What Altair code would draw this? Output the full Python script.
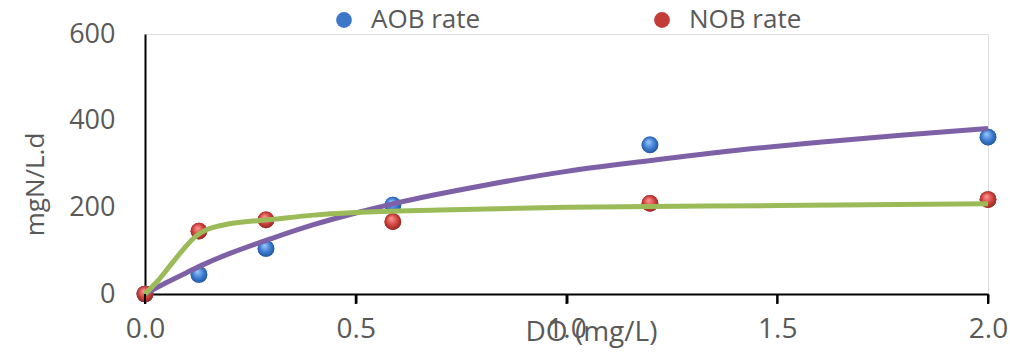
import altair as alt
import pandas as pd

# observed data
do_obs = [0.0, 0.128, 0.287, 0.588, 1.198, 2.0]
aob_rate = [0, 45, 105, 205, 344, 362]
nob_rate = [0, 145, 171, 167, 209, 218]

# fitted curves
aob_fit_x = [0.0, 0.05, 0.1, 0.15, 0.2, 0.3, 0.4, 0.5, 0.6, 0.8, 1.0, 1.2, 1.4, 1.6, 1.8, 2.0]
aob_fit_y = [0, 26, 50, 73, 93, 128, 160, 187, 211, 250, 283, 308, 331, 350, 367, 382]
nob_fit_x = [0.0, 0.03, 0.06, 0.09, 0.12, 0.15, 0.18, 0.2, 0.3, 0.4, 0.5, 0.7, 1.0, 1.5, 2.0]
nob_fit_y = [0, 30, 66, 102, 133, 150, 158, 162, 172, 182, 188, 194, 200, 204, 208]

x_ticks = [0.0, 0.5, 1.0, 1.5, 2.0]
y_ticks = [0, 200, 400, 600]

series = ["AOB rate", "NOB rate"]

pts = pd.DataFrame({
    "DO": do_obs * 2,
    "rate": aob_rate + nob_rate,
    "series": [series[0]] * len(do_obs) + [series[1]] * len(do_obs),
})
fit_aob = pd.DataFrame({"DO": aob_fit_x, "rate": aob_fit_y})
fit_nob = pd.DataFrame({"DO": nob_fit_x, "rate": nob_fit_y})
ticks_df = pd.DataFrame({"DO": x_ticks})

FONT = "Open Sans"
GRAY = "#595959"

xs = alt.Scale(domain=[0, 2.0], nice=False, zero=False)
ys = alt.Scale(domain=[0, 600], nice=False)

x_enc = alt.X("DO:Q", scale=xs, axis=alt.Axis(
    title="DO (mg/L)", values=x_ticks, format=".1f",
    grid=False, domainColor="black", domainWidth=2, ticks=True, tickColor="black", tickWidth=2,
    tickSize=9, labelPadding=12, labelFontSize=28, labelColor=GRAY, labelFont=FONT,
    labelFlush=False, labelOverlap=False, labelBound=False,
    titleFontSize=28, titleColor=GRAY, titleFont=FONT, titleFontWeight="normal",
    titleX=446, titleY=38, titleBaseline="middle", titleAnchor="middle", titleAlign="center",
))
y_enc = alt.Y("rate:Q", scale=ys, axis=alt.Axis(
    title="mgN/L.d", values=y_ticks, grid=False,
    domainColor="black", domainWidth=2, ticks=False, labelPadding=30,
    labelFontSize=27, labelColor=GRAY, labelFont=FONT, labelOverlap=False,
    titleFontSize=26, titleColor=GRAY, titleFont=FONT, titleFontWeight="normal",
    titleX=-110, titleY=150, titleBaseline="middle",
))

legend_base = alt.Chart(pts).mark_circle(size=280, opacity=1).encode(
    x=x_enc, y=y_enc,
    color=alt.Color("series:N", scale=alt.Scale(domain=series, range=["#3B78C8", "#C43C38"]),
                    legend=alt.Legend(
                        title=None, orient="none", direction="horizontal",
                        legendX=186, legendY=-27, symbolSize=250, symbolType="circle",
                        labelFontSize=26, labelFont=FONT, labelColor=GRAY, labelOffset=14,
                        columnPadding=168, symbolStrokeWidth=0,
                    )),
)

def grad(light, mid, dark):
    return alt.RadialGradient(
        gradient="radial",
        stops=[alt.GradientStop(offset=0, color=light),
               alt.GradientStop(offset=0.55, color=mid),
               alt.GradientStop(offset=1, color=dark)],
        x1=0.4, y1=0.3, r1=0, x2=0.5, y2=0.5, r2=0.6,
    )

blue_pts = alt.Chart(pts).transform_filter(alt.datum.series == series[0]).mark_circle(
    size=280, opacity=1, fill=grad("#9CCBFF", "#3C7BD0", "#1D4A8A")
).encode(x="DO:Q", y="rate:Q")
red_pts = alt.Chart(pts).transform_filter(alt.datum.series == series[1]).mark_circle(
    size=280, opacity=1, fill=grad("#FF9A96", "#D0423D", "#7E1F1C")
).encode(x="DO:Q", y="rate:Q")

line_aob = alt.Chart(fit_aob).mark_line(color="#7E60A6", strokeWidth=5, interpolate="monotone").encode(
    x="DO:Q", y="rate:Q")
line_nob = alt.Chart(fit_nob).mark_line(color="#9BBB59", strokeWidth=5, interpolate="monotone").encode(
    x="DO:Q", y="rate:Q")

# downward tick marks on the x axis
tick_rules = alt.Chart(ticks_df).mark_rule(color="black", strokeWidth=2).encode(
    x="DO:Q", y=alt.value(260), y2=alt.value(270))

chart = alt.layer(legend_base, blue_pts, red_pts, line_aob, line_nob, tick_rules).properties(
    width=843, height=260,
    autosize=alt.AutoSizeParams(type="none"),
    padding={"left": 145, "top": 34, "right": 22, "bottom": 60},
).configure_view(stroke="black", strokeWidth=2).configure(background="white")

chart.save("out.html", embed_options={"renderer": "svg", "actions": False})
